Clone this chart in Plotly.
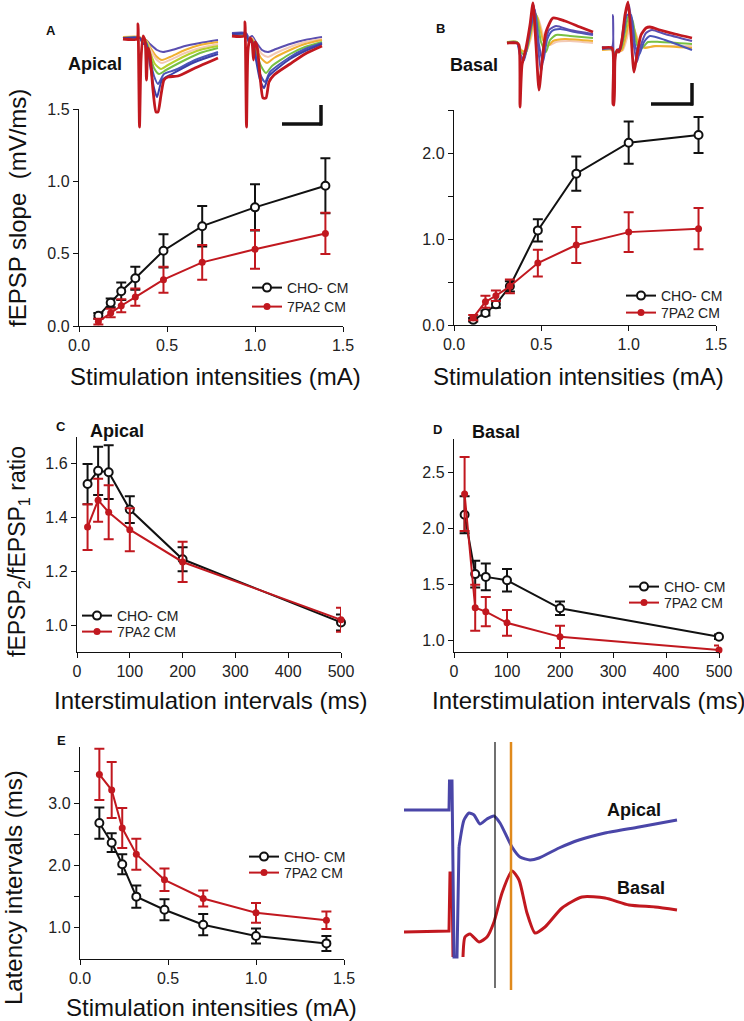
import plotly.graph_objects as go

W, H = 744, 1021
RED = "#c1181f"
BLK = "#111111"
FONT = "Liberation Sans"

# ---------------- data ----------------
stim = [0.11, 0.18, 0.24, 0.32, 0.48, 0.70, 1.00, 1.40]
isi = [20, 40, 60, 100, 200, 500]

# A: apical fEPSP slope
a_cho = [0.07, 0.16, 0.24, 0.33, 0.52, 0.69, 0.82, 0.97]
a_cho_err = [0.02, 0.03, 0.06, 0.08, 0.115, 0.14, 0.16, 0.19]
a_7pa2 = [0.03, 0.09, 0.14, 0.20, 0.32, 0.44, 0.53, 0.64]
a_7pa2_err = [0.02, 0.03, 0.045, 0.06, 0.09, 0.12, 0.134, 0.143]

# B: basal fEPSP slope
b_cho = [0.06, 0.14, 0.24, 0.45, 1.10, 1.76, 2.12, 2.21]
b_cho_err = [0.02, 0.03, 0.04, 0.06, 0.13, 0.20, 0.245, 0.21]
b_7pa2 = [0.085, 0.27, 0.34, 0.45, 0.72, 0.93, 1.08, 1.12]
b_7pa2_err = [0.03, 0.07, 0.06, 0.08, 0.155, 0.21, 0.23, 0.24]

# C: apical paired-pulse ratio
c_cho = [1.525, 1.574, 1.569, 1.43, 1.245, 1.01]
c_cho_err = [0.075, 0.09, 0.10, 0.05, 0.045, 0.03]
c_7pa2 = [1.365, 1.465, 1.42, 1.355, 1.235, 1.02]
c_7pa2_err = [0.085, 0.08, 0.10, 0.08, 0.075, 0.045]

# D: basal paired-pulse ratio
d_cho = [2.125, 1.595, 1.57, 1.54, 1.29, 1.036]
d_cho_err = [0.165, 0.12, 0.12, 0.10, 0.06, 0.02]
d_7pa2 = [2.31, 1.295, 1.26, 1.16, 1.035, 0.917]
d_7pa2_err = [0.33, 0.205, 0.13, 0.115, 0.10, 0.04]

# E: latency intervals
e_cho = [2.68, 2.365, 2.02, 1.50, 1.29, 1.05, 0.87, 0.75]
e_cho_err = [0.25, 0.15, 0.16, 0.18, 0.17, 0.17, 0.12, 0.12]
e_7pa2 = [3.46, 3.21, 2.60, 2.18, 1.77, 1.47, 1.24, 1.12]
e_7pa2_err = [0.41, 0.45, 0.32, 0.25, 0.18, 0.13, 0.16, 0.14]

# tick labels
stim_ticks = [0.0, 0.5, 1.0, 1.5]
isi_ticks = [0, 100, 200, 300, 400, 500]
a_yticks = [0.0, 0.5, 1.0, 1.5]
b_yticks = [0.0, 1.0, 2.0]
b_yminor = [0.5, 1.5, 2.5]
c_yticks = [1.0, 1.2, 1.4, 1.6]
d_yticks = [1.0, 1.5, 2.0, 2.5]
e_yticks = [1.0, 2.0, 3.0]
e_yminor = [1.5, 2.5, 3.5]

# example traces (page-pixel sample points)
insA1 = {
    "#5b4fb0": [(123,38),(140,38),(143,42),(146,40),(150,44),(157,50),(163,52),(172,50),(185,46),(200,43),(218,40)],
    "#f0b030": [(123,37),(140,37),(143,42),(146,40),(150,47),(156,56),(162,60),(170,57),(185,50),(200,45),(218,42)],
    "#f3c9b4": [(123,38),(140,38),(143,42),(146,41),(150,49),(156,59),(162,63),(170,60),(185,53),(200,48),(218,44)],
    "#b5cf2c": [(123,38),(140,38),(143,43),(146,41),(150,52),(155,64),(161,69),(168,65),(185,56),(200,50),(218,46)],
    "#78c043": [(123,38),(140,38),(143,43),(146,42),(150,55),(154,68),(159,74),(166,70),(185,60),(200,53),(218,48)],
    "#4a55b8": [(123,38),(140,38),(143,44),(146,43),(150,60),(154,76),(158,84),(164,74),(175,70),(195,60),(218,52)],
    "#3b3fa8": [(123,38),(140,38),(143,44),(146,43),(150,65),(154,88),(157,97),(162,80),(172,74),(195,62),(218,54)],
    RED: [(123,39),(137,39),(138,24),(139.5,127),(141,60),(143,36),(145,40),(146.5,80),(148,48),(150,55),(153,90),
          (156,112),(158,112),(161,95),(164,80),(168,77),(178,76),(195,68),(218,58)],
}
insA2 = {
    "#5b4fb0": [(232,33),(246,33),(249,38),(252,36),(256,42),(262,50),(268,52),(276,49),(290,44),(305,40),(322,37)],
    "#f3c9b4": [(232,35),(246,35),(249,39),(252,38),(256,45),(262,54),(268,57),(276,53),(290,47),(305,42),(322,39)],
    "#f0b030": [(232,36),(246,36),(249,40),(252,39),(256,48),(261,58),(267,63),(274,58),(290,50),(305,44),(322,40)],
    "#78c043": [(232,36),(246,36),(249,41),(252,40),(256,52),(261,66),(266,73),(272,66),(290,54),(305,47),(322,42)],
    "#4a55b8": [(232,34),(246,34),(249,42),(252,41),(256,57),(260,74),(265,82),(270,72),(290,57),(305,49),(322,43)],
    "#3b3fa8": [(232,34),(246,34),(249,42),(252,41),(256,60),(260,80),(264,88),(269,76),(290,59),(305,51),(322,44)],
    RED: [(232,36),(244,36),(245,22),(246.5,127),(248,50),(250,38),(252,42),(253.5,60),(255,42),(257,46),(260,75),
          (263,98),(266,98),(269,82),(274,75),(290,64),(305,54),(322,46)],
}
insB1 = {
    "#f3c9b4": [(507,43),(517,43),(521,50),(526,52),(531,38),(535,22),(538,18),(544,38),(550,45),(556,42),(570,41),(593,43)],
    "#f0b030": [(507,42),(517,42),(521,50),(526,52),(530,38),(534,20),(537,16),(543,40),(548,46),(553,41),(565,39),(593,41)],
    "#78c043": [(507,42),(517,42),(521,52),(525,55),(529,40),(533,20),(536,14),(541,42),(546,52),(550,40),(556,35),(570,36),(593,38)],
    "#4a55b8": [(507,43),(517,43),(520,55),(524,60),(528,42),(532,22),(535,10),(539,45),(543,62),(547,40),(552,31),(560,29),(575,32),(593,35)],
    "#5b4fb0": [(507,43),(517,43),(520,52),(523,62),(527,45),(531,22),(534,6),(537,35),(541,72),(545,45),(549,30),(556,26),(570,30),(593,34)],
    RED: [(507,43),(517,43),(519,45),(520,107),(522,65),(526,48),(530,25),(533,3),(536,45),(539,90),(542,62),(546,32),
          (553,18),(565,21),(580,27),(593,32)],
}
insB2 = {
    "#f3c9b4": [(602,49),(612,49),(615,54),(619,52),(623,50),(627,38),(631,22),(636,34),(641,46),(648,47),(660,46),(692,46)],
    "#f0b030": [(602,50),(612,50),(614,54),(618,52),(622,50),(626,36),(630,18),(634,28),(639,45),(645,48),(655,46),(692,48)],
    "#78c043": [(602,48),(612,48),(614,53),(617,51),(621,49),(625,32),(629,14),(633,22),(637,45),(642,48),(648,42),(660,42),(692,44)],
    "#4a55b8": [(602,49),(612,49),(614,55),(617,52),(620,50),(624,32),(627,15),(631,15),(635,45),(639,55),(644,42),(650,36),(665,40),(692,50)],
    "#5b4fb0": [(602,47),(612,47),(613,15),(614,60),(617,50),(620,48),(623,30),(626,12),(629,5),(633,40),(637,62),(641,45),
                (646,33),(652,30),(665,34),(692,41)],
    RED: [(602,48),(612,48),(613,104),(614,105),(615,60),(617,50),(619,52),(622,40),(625,15),(628,2),(631,35),(634,72),
          (637,55),(641,35),(646,28),(650,27),(660,30),(675,34),(692,38)],
}
trace_basal = [(404,932),(449,931),(450,873),(452,873),(453,957)]
trace_basal2 = [(463,957),(465,937),(470,934),(479,942),(487,937),(494,922),(502,893),(512,871),(519,880),(527,913),
                (535,933),(545,927),(562,908),(582,897),(605,898),(629,905),(655,907),(677,910)]
trace_apical = [(404,810),(449,810),(449.5,781),(452,781),(454,957),(457,957),(459,847),(464,820),(469,813),(474,815),
                (480,824),(487,819),(494,816),(500,823),(512,847),(520,857),(530,860),(539,858),(559,848),(579,840),
                (605,833),(639,827),(677,820)]

# ---------------- layout helpers ----------------
def dx(a, b):
    return [a / W, b / W]

def dy(top, bottom):
    return [(H - bottom) / H, (H - top) / H]

fig = go.Figure()

axis_common = dict(showline=True, linecolor=BLK, linewidth=1.4, ticks="outside", ticklen=5,
                   tickwidth=1.4, tickcolor=BLK, showgrid=False, zeroline=False, automargin=False,
                   tickfont=dict(family=FONT, size=16, color="#222"))

def minor(vals):
    return dict(tickmode="array", tickvals=vals, ticks="outside", ticklen=5, tickwidth=1.4,
                tickcolor=BLK, showgrid=False)

panels = [
    # suffix, x-domain, y-domain, x-range, y-range, x ticks, x format, y ticks, y minor
    ("", dx(79, 343), dy(109, 326), [0, 1.5], [0, 1.5], stim_ticks, ".1f", a_yticks, []),
    ("2", dx(454, 716), dy(110, 325), [0, 1.5], [0, 2.5], stim_ticks, ".1f", b_yticks, b_yminor),
    ("3", dx(77, 341), dy(437, 652), [0, 500], [0.9, 1.7], isi_ticks, "d", c_yticks, []),
    ("4", dx(454, 719), dy(439, 652), [0, 500], [0.9, 2.8], isi_ticks, "d", d_yticks, []),
    ("5", dx(80, 344), dy(747, 959), [0, 1.5], [0.5, 3.9], stim_ticks, ".1f", e_yticks, e_yminor),
]
for name, xd, yd, xr, yr, xt, xf, yt, ym in panels:
    ylay = dict(domain=yd, range=yr, anchor="x" + name, tickmode="array", tickvals=yt, tickformat=".1f", **axis_common)
    if ym:
        ylay["minor"] = minor(ym)
    fig.update_layout({
        "xaxis" + name: dict(domain=xd, range=xr, anchor="y" + name, tickmode="array", tickvals=xt,
                             tickformat=xf, **axis_common),
        "yaxis" + name: ylay,
    })

# overlay axes for example traces, in page pixels
fig.update_layout(
    xaxis6=dict(domain=[0, 1], range=[0, W], visible=False, anchor="y6", fixedrange=True, automargin=False),
    yaxis6=dict(domain=[0, 1], range=[H, 0], visible=False, anchor="x6", fixedrange=True, automargin=False),
)

series = [
    ("", stim, a_cho, a_cho_err, a_7pa2, a_7pa2_err, ("legend", "legend2")),
    ("2", stim, b_cho, b_cho_err, b_7pa2, b_7pa2_err, ("legend3", "legend4")),
    ("3", isi, c_cho, c_cho_err, c_7pa2, c_7pa2_err, ("legend5", "legend6")),
    ("4", isi, d_cho, d_cho_err, d_7pa2, d_7pa2_err, ("legend7", "legend8")),
    ("5", stim, e_cho, e_cho_err, e_7pa2, e_7pa2_err, ("legend9", "legend10")),
]
for name, xs, cho, cho_e, pa, pa_e, lg in series:
    xa, ya = "x" + name, "y" + name
    fig.add_trace(go.Scatter(
        x=xs, y=cho, xaxis=xa, yaxis=ya, name="CHO- CM", legend=lg[0], mode="lines+markers",
        line=dict(color=BLK, width=2),
        marker=dict(symbol="circle", size=8, color="white", line=dict(color=BLK, width=2)),
        error_y=dict(type="data", array=cho_e, color=BLK, thickness=2, width=5),
        cliponaxis=False))
    fig.add_trace(go.Scatter(
        x=xs, y=pa, xaxis=xa, yaxis=ya, name="7PA2 CM", legend=lg[1], mode="lines+markers",
        line=dict(color=RED, width=2),
        marker=dict(symbol="circle", size=7, color=RED),
        error_y=dict(type="data", array=pa_e, color=RED, thickness=2, width=5),
        cliponaxis=False))

def add_wave(pts, color, width=2.0):
    fig.add_trace(go.Scatter(x=[p[0] for p in pts], y=[p[1] for p in pts], xaxis="x6", yaxis="y6",
                             mode="lines", line=dict(color=color, width=width, shape="spline", smoothing=0.6),
                             showlegend=False, hoverinfo="skip", cliponaxis=False))

for inset in (insA1, insA2, insB1, insB2):
    for col, pts in inset.items():
        add_wave(pts, col, 2.8 if col == RED else 2.0)

fig.add_trace(go.Scatter(x=[p[0] for p in trace_basal], y=[p[1] for p in trace_basal], xaxis="x6", yaxis="y6",
                         mode="lines", line=dict(color=RED, width=3), showlegend=False, hoverinfo="skip"))
add_wave(trace_basal2, RED, 3)
fig.add_trace(go.Scatter(x=[p[0] for p in trace_apical[:7]], y=[p[1] for p in trace_apical[:7]], xaxis="x6", yaxis="y6",
                         mode="lines", line=dict(color="#4a46a8", width=3), showlegend=False, hoverinfo="skip"))
add_wave(trace_apical[6:], "#4a46a8", 3)

shapes = [
    dict(type="line", xref="x6", yref="y6", x0=282, x1=322, y0=124, y1=124, line=dict(color=BLK, width=3.5)),
    dict(type="line", xref="x6", yref="y6", x0=321, x1=321, y0=105, y1=125.5, line=dict(color=BLK, width=3.5)),
    dict(type="line", xref="x6", yref="y6", x0=651, x1=693, y0=104, y1=104, line=dict(color=BLK, width=3.5)),
    dict(type="line", xref="x6", yref="y6", x0=692, x1=692, y0=83, y1=105.5, line=dict(color=BLK, width=3.5)),
    dict(type="line", xref="x6", yref="y6", x0=495, x1=495, y0=742, y1=988, line=dict(color=BLK, width=1.2)),
    dict(type="line", xref="x6", yref="y6", x0=511, x1=511, y0=742, y1=990, line=dict(color="#e08a1c", width=2.5)),
]

def ann(text, x, y, size, bold=False, angle=0, xanchor="center"):
    t = f"<b>{text}</b>" if bold else text
    return dict(text=t, x=x / W, y=1 - y / H, xref="paper", yref="paper", showarrow=False,
                xanchor=xanchor, yanchor="middle", textangle=angle,
                font=dict(family=FONT, size=size, color="#111"))

annotations = [
    ann("A", 51, 31, 13, True), ann("B", 440, 29, 13, True), ann("C", 61, 426, 13, True),
    ann("D", 437, 429, 13, True), ann("E", 61, 740, 13, True),
    ann("Apical", 95, 64, 18, True), ann("Basal", 474, 65, 18, True),
    ann("Apical", 117, 431, 18, True), ann("Basal", 496, 432, 18, True),
    ann("Apical", 634, 810, 18, True), ann("Basal", 641, 888, 18, True),
    ann("fEPSP slope  (mV/ms)", 17, 208, 24, angle=-90),
    ann("fEPSP<sub>2</sub>/fEPSP<sub>1</sub> ratio", 18, 552, 23, angle=-90),
    ann("Latency intervals (ms)", 13, 888, 24, angle=-90),
    ann("Stimulation intensities (mA)", 215, 376, 24),
    ann("Stimulation intensities (mA)", 578, 376, 24),
    ann("Interstimulation intervals (ms)", 210, 700, 24),
    ann("Interstimulation intervals (ms)", 588, 700, 24),
    ann("Stimulation intensities (mA)", 211, 1007, 24),
]

def leg(text_x, center_y):
    return dict(x=(text_x - 42) / W, y=1 - center_y / H, xanchor="left", yanchor="middle",
                bgcolor="rgba(0,0,0,0)", borderwidth=0, tracegroupgap=0,
                font=dict(family=FONT, size=14, color="#222"), itemwidth=30)

legends = {
    "legend": leg(289, 288), "legend2": leg(289, 307),
    "legend3": leg(663, 296), "legend4": leg(663, 313),
    "legend5": leg(119, 616), "legend6": leg(119, 632),
    "legend7": leg(666, 587), "legend8": leg(666, 603),
    "legend9": leg(286, 857), "legend10": leg(286, 873),
}

fig.update_layout(
    width=W, height=H, margin=dict(l=0, r=0, t=0, b=0, pad=0, autoexpand=False),
    paper_bgcolor="white", plot_bgcolor="rgba(0,0,0,0)",
    shapes=shapes, annotations=annotations, showlegend=True,
    **legends,
)

fig.write_html("out.html", config={"displayModeBar": False},
               post_script="document.body.style.margin='0px';")
